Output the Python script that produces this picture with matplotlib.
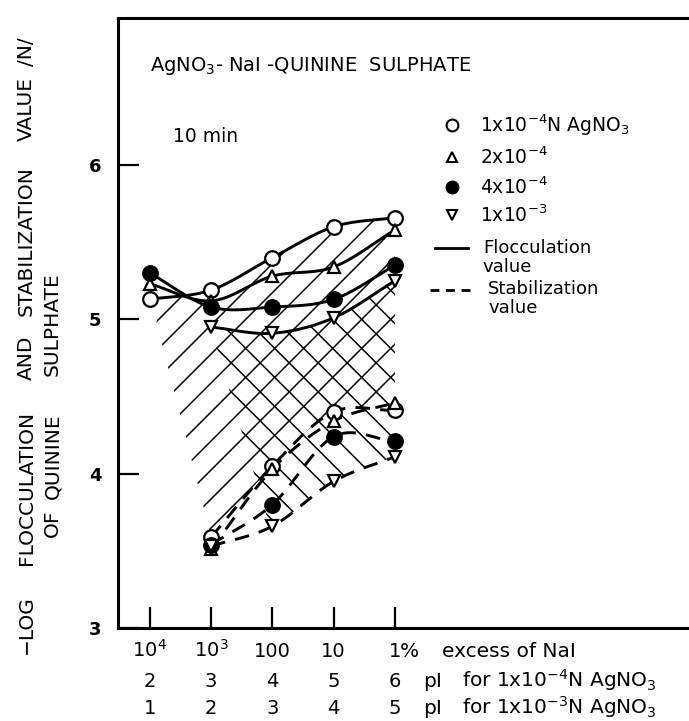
import numpy as np
import matplotlib
matplotlib.use('Agg')
import matplotlib.pyplot as plt
from matplotlib.patches import Polygon

plt.rcParams['font.family'] = ['DejaVu Sans']
plt.rcParams['mathtext.fontset'] = 'dejavusans'

# positions along the x axis (one slot per decade of NaI excess)
x_pos = [0, 1, 2, 3, 4]
excess_labels = ['$10^4$', '$10^3$', '100', '10', '1']
pI_1e4_labels = ['2', '3', '4', '5', '6']
pI_1e3_labels = ['1', '2', '3', '4', '5']

# flocculation values (solid curves)
floc_x = [0, 1, 2, 3, 4]
floc_1e4 = [5.13, 5.19, 5.40, 5.60, 5.66]
floc_2e4 = [5.23, 5.12, 5.28, 5.34, 5.58]
floc_4e4 = [5.30, 5.08, 5.08, 5.13, 5.35]
floc_1e3_x = [1, 2, 3, 4]
floc_1e3 = [4.95, 4.91, 5.01, 5.25]

# stabilization values (dashed curves)
stab_x = [1, 2, 3, 4]
stab_1e4 = [3.59, 4.05, 4.40, 4.41]
stab_2e4 = [3.51, 4.03, 4.34, 4.46]
stab_4e4 = [3.54, 3.80, 4.24, 4.21]
stab_1e3 = [3.53, 3.66, 3.95, 4.11]

# corners of the hatched zones that are not on a curve
slash_left = [(0.11, 4.98)]
back_left = [(1.09, 4.82), (1.73, 3.96)]


def smooth(xs, ys, n=30):
    # catmull-rom through the measured points
    xs = np.asarray(xs, float)
    ys = np.asarray(ys, float)
    px = np.concatenate([[2 * xs[0] - xs[1]], xs, [2 * xs[-1] - xs[-2]]])
    py = np.concatenate([[2 * ys[0] - ys[1]], ys, [2 * ys[-1] - ys[-2]]])
    t = np.linspace(0, 1, n)
    ox, oy = [], []
    for i in range(1, len(px) - 2):
        for p, out in ((px, ox), (py, oy)):
            p0, p1, p2, p3 = p[i - 1:i + 3]
            seg = 0.5 * (2 * p1 + (-p0 + p2) * t + (2 * p0 - 5 * p1 + 4 * p2 - p3) * t ** 2
                         + (-p0 + 3 * p1 - 3 * p2 + p3) * t ** 3)
            out.extend(seg if i == 1 else seg[1:])
    return np.array(ox), np.array(oy)


fig = plt.figure(figsize=(6.89, 7.21), dpi=100)
ax = fig.add_axes([118 / 689, 93 / 721, 571 / 689, 610 / 721])
ax.set_xlim(-0.52, 8.8)
ax.set_ylim(3, 6.953)

# --- hatched zones ---
sx = ax.transData.transform((1, 3))[0] - ax.transData.transform((0, 3))[0]
sy = ax.transData.transform((0, 4))[1] - ax.transData.transform((0, 3))[1]

top_x, top_y = smooth(floc_x, floc_1e4)
bot_x, bot_y = smooth(stab_x, stab_1e4)
m = top_x >= slash_left[0][0]
verts = list(zip(bot_x, bot_y)) + list(zip(top_x[m][::-1], top_y[m][::-1])) + slash_left
slash_patch = Polygon(verts, closed=True, fill=False, lw=0)
ax.add_patch(slash_patch)

t2x, t2y = smooth(floc_1e3_x, floc_1e3)
b2x, b2y = smooth(stab_x, stab_1e3)
(cx0, cy0), (cx1, cy1) = back_left
gx = np.linspace(cx0, 4, 200)
cut = cy0 + (gx - cx0) * (cy1 - cy0) / (cx1 - cx0)
lower = np.maximum(np.interp(gx, b2x, b2y), cut)
upper = np.interp(gx, t2x, t2y)
lower = np.minimum(lower, upper)
verts2 = list(zip(gx, lower)) + list(zip(gx[::-1], upper[::-1]))
back_patch = Polygon(verts2, closed=True, fill=False, lw=0)
ax.add_patch(back_patch)

step = 29 / sx
rise = 4 * sy / sx
for k in range(-20, 30):
    x0 = -3 + k * step
    ax.plot([x0, x0 + rise], [3, 7], color='black', lw=1.1, clip_path=slash_patch, zorder=1)
    ax.plot([x0, x0 + rise], [7, 3], color='black', lw=1.1, clip_path=back_patch, zorder=1)

# --- curves ---
series = [
    (floc_x, floc_1e4, stab_x, stab_1e4, dict(marker='o', mfc='white', ms=10.5)),
    (floc_x, floc_2e4, stab_x, stab_2e4, dict(marker='^', mfc='white', ms=9)),
    (floc_x, floc_4e4, stab_x, stab_4e4, dict(marker='o', mfc='black', ms=10.5)),
    (floc_1e3_x, floc_1e3, stab_x, stab_1e3, dict(marker='v', mfc='white', ms=9)),
]
for fx, fy, stx, sty, mk in series:
    xx, yy = smooth(fx, fy)
    ax.plot(xx, yy, color='black', lw=2.1, zorder=3)
    xx, yy = smooth(stx, sty)
    ax.plot(xx, yy, color='black', lw=2.1, ls=(0, (5, 3.5)), zorder=3)
    ax.plot(fx, fy, ls='none', mec='black', mew=1.6, zorder=4, **mk)
    ax.plot(stx, sty, ls='none', mec='black', mew=1.6, zorder=4, **mk)

# --- axes styling ---
for side in ['left', 'bottom', 'top']:
    ax.spines[side].set_linewidth(2.2)
ax.spines['right'].set_visible(False)
ax.set_yticks([3, 4, 5, 6])
ax.set_yticklabels(['3', '4', '5', '6'], fontsize=13, fontweight='bold')
ax.set_xticks(x_pos)
ax.set_xticklabels([])
ax.tick_params(axis='both', direction='in', length=15, width=1.6)
ax.tick_params(axis='y', pad=12)

# three rows of x labels
tr = ax.get_xaxis_transform()
rows_y = [-0.0475, -0.0967, -0.141]
for x, a, b, c in zip(x_pos, excess_labels, pI_1e4_labels, pI_1e3_labels):
    for yy, lab in zip(rows_y, (a, b, c)):
        ax.text(x, yy, lab, transform=tr, ha='center', va='baseline', fontsize=14)
fs = 14.5
ax.text(4.08, rows_y[0], '%', transform=tr, va='baseline', fontsize=fs)
ax.text(4.77, rows_y[0], 'excess of NaI', transform=tr, va='baseline', fontsize=fs)
for yy, exp in zip(rows_y[1:], ('-4', '-3')):
    ax.text(4.457, yy, 'pI', transform=tr, va='baseline', fontsize=fs)
    ax.text(5.09, yy, 'for 1x10$^{%s}$N AgNO$_3$' % exp, transform=tr, va='baseline', fontsize=fs)

# title and time inside the frame
ax.text(0.056, 0.913, 'AgNO$_3$- NaI -QUININE  SULPHATE', transform=ax.transAxes, fontsize=14)
ax.text(0.096, 0.797, '10 min', transform=ax.transAxes, fontsize=13.5)

# legend drawn by hand
lfs = 13
lx_mark, lx_text = 0.585, 0.634
legend_rows = [
    (0.8246, dict(marker='o', mfc='white', ms=8.5), '1x10$^{-4}$N AgNO$_3$'),
    (0.7721, dict(marker='^', mfc='white', ms=7), '2x10$^{-4}$'),
    (0.7230, dict(marker='o', mfc='black', ms=8.5), '4x10$^{-4}$'),
    (0.6770, dict(marker='v', mfc='white', ms=7), '1x10$^{-3}$'),
]
for ly, mk, lab in legend_rows:
    ax.plot([lx_mark], [ly], transform=ax.transAxes, ls='none', mec='black', mew=1.5, **mk)
    ax.text(lx_text, ly, lab, transform=ax.transAxes, fontsize=13.5, va='center')
ax.plot([0.555, 0.613], [0.623, 0.623], transform=ax.transAxes, color='black', lw=2)
ax.text(0.639, 0.623, 'Flocculation', transform=ax.transAxes, fontsize=lfs, va='center')
ax.text(0.639, 0.592, 'value', transform=ax.transAxes, fontsize=lfs, va='center')
ax.plot([0.546, 0.620], [0.554, 0.554], transform=ax.transAxes, color='black', lw=2,
        ls=(0, (3.2, 2.4)))
ax.text(0.648, 0.556, 'Stabilization', transform=ax.transAxes, fontsize=lfs, va='center')
ax.text(0.648, 0.525, 'value', transform=ax.transAxes, fontsize=lfs, va='center')

# y axis title, word by word along two vertical lines
ylab_line1 = [('\u2212LOG', 625), ('FLOCCULATION', 488), ('AND', 358),
              ('STABILIZATION', 241), ('VALUE', 109), ('/N/', 52)]
ylab_line2 = [('OF', 523), ('QUININE', 456), ('SULPHATE', 324)]
for words, xc in ((ylab_line1, 26.5), (ylab_line2, 52.5)):
    for w, yc in words:
        fig.text(xc / 689, 1 - yc / 721, w, rotation=90, ha='center', va='center', fontsize=14.5)

fig.savefig('out.png', dpi=100)
